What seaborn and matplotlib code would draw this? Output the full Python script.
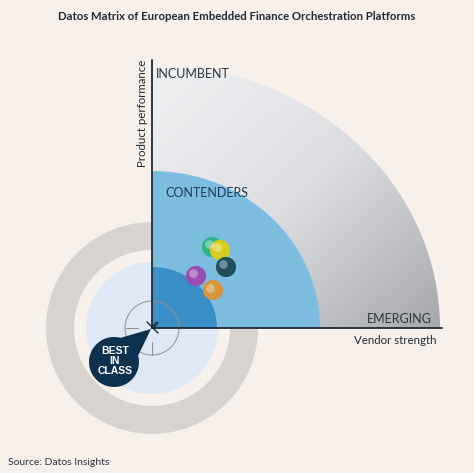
import numpy as np
import pandas as pd
import seaborn as sns
import matplotlib.pyplot as plt
from matplotlib.patches import Circle, Wedge, Polygon
from matplotlib.transforms import Affine2D

sns.set_theme(style='white')
plt.rcParams['font.family'] = ['Lato', 'DejaVu Sans']

# 数据：厂商位置（像素坐标系，原点在矩阵左下角）
vendors = ['Green', 'Yellow', 'Teal', 'Purple', 'Orange']
vendor_x = [60, 68, 74, 44, 61]
vendor_y = [81, 78, 61, 52, 38]
vendor_colors = ['#2fb58a', '#d8cc1f', '#1f4e5c', '#9a4fb0', '#d9953a']

zones = ['INCUMBENT', 'CONTENDERS', 'EMERGING']
title = 'Datos Matrix of European Embedded Finance Orchestration Platforms'

BG = '#f8f1eb'
ox, oy = 152, 145   # 原点（图中像素，y 向上）

fig = plt.figure(figsize=(4.74, 4.73), dpi=100, facecolor=BG)
ax = fig.add_axes([0, 0, 1, 1])
ax.set_facecolor(BG)
ax.set_xlim(0, 474)
ax.set_ylim(0, 473)
ax.axis('off')

# 背景圆环
ax.add_patch(Circle((ox, oy), 106, color='#d8d3ce', lw=0, zorder=1))
ax.add_patch(Circle((ox, oy), 78, color=BG, lw=0, zorder=1))
ax.add_patch(Circle((ox, oy), 66, color='#dfe9f5', lw=0, zorder=1))

# 灰色渐变四分之一椭圆
grad = np.add.outer(np.linspace(0, 1, 200), np.linspace(0, 1, 200))
im = ax.imshow(grad, cmap=sns.blend_palette(['#f0f1f3', '#dcdee1', '#a6a8ab'], as_cmap=True),
               extent=(ox, ox + 288, oy, oy + 263), origin='upper', zorder=2, aspect='auto')
clip = Wedge((0, 0), 1, 0, 90)
clip.set_transform(Affine2D().scale(288, 263).translate(ox, oy) + ax.transData)
im.set_clip_path(clip)

ax.add_patch(Wedge((0, 0), 1, 0, 90, color='#7dbde0', lw=0, zorder=3,
                   transform=Affine2D().scale(168, 157).translate(ox, oy) + ax.transData))
ax.add_patch(Wedge((0, 0), 1, 0, 90, color='#3b8fc7', lw=0, zorder=4,
                   transform=Affine2D().scale(65, 61).translate(ox, oy) + ax.transData))

# 靶心
ax.add_patch(Circle((ox, oy), 27, fill=False, ec='#8a8f96', lw=0.7, zorder=5))
ax.plot([ox - 27, ox - 14], [oy, oy], color='#8a8f96', lw=0.7, zorder=5)
ax.plot([ox, ox], [oy - 27, oy - 14], color='#8a8f96', lw=0.7, zorder=5)

# 坐标轴
ax.plot([ox, ox], [oy, oy + 268], color='#1f2a36', lw=1.3, zorder=6)
ax.plot([ox, ox + 290], [oy, oy], color='#1f2a36', lw=1.3, zorder=6)
ax.plot([ox - 5, ox, ox + 5], [oy + 6, oy + 1, oy + 6], color='#1f2a36', lw=1, zorder=6)
ax.plot([ox + 6, ox + 1, ox + 6], [oy + 5, oy, oy - 5], color='#1f2a36', lw=1, zorder=6)

# BEST IN CLASS 水滴
cx, cy, r = 114, 111, 25
t = np.linspace(np.deg2rad(75), np.deg2rad(375), 80)
pts = np.column_stack([cx + r * np.cos(t), cy + r * np.sin(t)])
pts = np.vstack([pts, [[ox - 1, oy - 1]]])
ax.add_patch(Polygon(pts, closed=True, color='#0e3150', lw=0, zorder=7))
ax.text(cx + 1, cy + 1, 'BEST\nIN\nCLASS', ha='center', va='center', color='white',
        fontsize=7.5, fontweight='bold', linespacing=0.95, zorder=8,
        family=['Liberation Sans', 'DejaVu Sans'])

# 厂商气泡
df = pd.DataFrame({'vendor': vendors, 'x': np.array(vendor_x) + ox, 'y': np.array(vendor_y) + oy})
sns.scatterplot(data=df, x='x', y='y', hue='vendor', palette=vendor_colors, s=210,
                edgecolor='none', legend=False, ax=ax, zorder=9)
ax.scatter(df['x'] - 2.5, df['y'] + 2.5, s=40, color='white', alpha=0.35, lw=0, zorder=10)
ax.set_xlim(0, 474)
ax.set_ylim(0, 473)

# 文字
tc = '#2d3540'
ax.text(156, 399, zones[0], fontsize=9, color=tc, va='center', zorder=11)
ax.text(165, 280, zones[1], fontsize=9, color='#1f3b55', va='center', zorder=11)
ax.text(432, 154, zones[2], fontsize=9, color=tc, va='center', ha='right', zorder=11)
ax.text(437, 132, 'Vendor strength', fontsize=8.3, color='#1f2a36', ha='right', va='center')
ax.text(143, 360, 'Product performance', fontsize=8.3, color='#1f2a36', ha='center', va='center',
        rotation=90)
ax.text(237, 456, title, fontsize=8.2, fontweight='bold', color='#1f2a36', ha='center', va='center')
ax.text(8, 11, 'Source: Datos Insights', fontsize=7.5, color='#2d3540', va='center')

fig.savefig('out.png', dpi=100, facecolor=BG)
